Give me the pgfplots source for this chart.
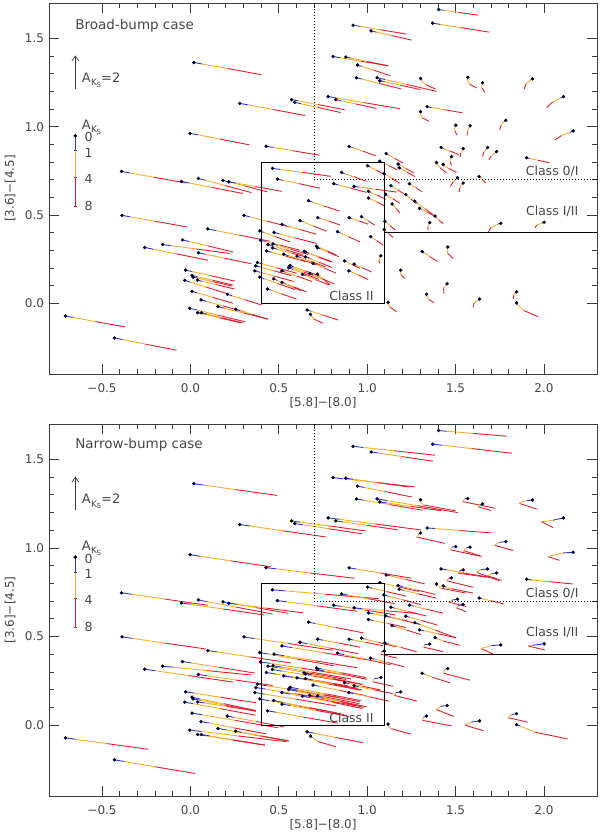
\documentclass[border=0pt]{standalone}
\usepackage{pgfplots}
\pgfplotsset{compat=1.18}
\usepackage{pgfplotstable}
\usepackage{fontspec}
\setmainfont{DejaVu Sans}
\usetikzlibrary{arrows.meta}

\definecolor{cblue}{RGB}{45,60,200}
\definecolor{corange}{RGB}{245,175,40}
\definecolor{cred}{RGB}{228,30,45}
\definecolor{txt}{RGB}{70,70,70}
\definecolor{axcol}{RGB}{60,60,60}

\newcommand{\AKS}{A\kern0.3pt\raisebox{-0.45ex}{\fontsize{9}{9}\selectfont K\kern-0.3pt\raisebox{-0.35ex}{\fontsize{7}{7}\selectfont S}}}

% columns: position at A_Ks = 0, 1, 4, 8
\pgfplotstableread{
xa ya xb yb xc yc xd yd
0.019 1.363 0.069 1.354 0.211 1.329 0.402 1.294
0.279 1.132 0.327 1.123 0.464 1.098 0.649 1.063
0.572 1.153 0.611 1.146 0.722 1.125 0.872 1.096
0.590 1.138 0.624 1.130 0.720 1.109 0.850 1.080
-0.002 0.962 0.042 0.954 0.166 0.930 0.334 0.897
0.428 0.889 0.467 0.883 0.578 0.864 0.728 0.839
-0.390 0.747 -0.342 0.738 -0.207 0.714 -0.023 0.681
-0.051 0.690 -0.006 0.681 0.123 0.656 0.296 0.622
0.045 0.707 0.084 0.697 0.195 0.667 0.345 0.627
0.184 0.696 0.217 0.688 0.309 0.664 0.434 0.631
0.217 0.688 0.256 0.681 0.367 0.661 0.517 0.634
0.464 0.764 0.507 0.758 0.629 0.742 0.794 0.719
0.492 0.703 0.523 0.696 0.612 0.678 0.732 0.652
-0.387 0.498 -0.339 0.489 -0.202 0.465 -0.017 0.432
0.098 0.421 0.144 0.412 0.273 0.387 0.448 0.352
-0.045 0.359 -0.008 0.350 0.098 0.325 0.241 0.291
-0.157 0.333 -0.108 0.326 0.033 0.308 0.222 0.282
-0.259 0.316 -0.212 0.307 -0.080 0.280 0.100 0.244
0.045 0.286 0.084 0.278 0.195 0.255 0.345 0.224
-0.027 0.188 0.009 0.180 0.112 0.157 0.251 0.126
0.009 0.158 0.039 0.151 0.125 0.131 0.241 0.103
0.015 0.148 0.044 0.142 0.125 0.123 0.235 0.098
0.040 0.131 0.067 0.125 0.145 0.106 0.250 0.081
-0.032 0.130 -0.001 0.120 0.086 0.093 0.204 0.056
0.009 0.068 0.039 0.059 0.125 0.034 0.241 0.000
0.060 0.020 0.092 0.011 0.184 -0.015 0.307 -0.049
-0.004 -0.028 0.036 -0.038 0.152 -0.066 0.307 -0.104
0.041 -0.053 0.072 -0.060 0.160 -0.081 0.279 -0.109
0.062 -0.053 0.092 -0.061 0.179 -0.082 0.296 -0.111
0.156 -0.019 0.193 -0.028 0.298 -0.054 0.439 -0.089
0.209 0.051 0.234 0.043 0.307 0.021 0.404 -0.010
0.256 -0.034 0.280 -0.041 0.348 -0.062 0.439 -0.090
-0.707 -0.072 -0.663 -0.080 -0.538 -0.103 -0.368 -0.134
-0.430 -0.196 -0.384 -0.205 -0.255 -0.231 -0.079 -0.265
0.303 0.498 0.337 0.489 0.433 0.465 0.562 0.432
0.392 0.410 0.414 0.402 0.477 0.379 0.562 0.348
0.396 0.357 0.425 0.350 0.508 0.329 0.619 0.301
0.430 0.297 0.459 0.289 0.540 0.267 0.650 0.237
0.379 0.231 0.408 0.223 0.489 0.201 0.599 0.171
0.370 0.212 0.396 0.205 0.470 0.185 0.570 0.157
0.364 0.184 0.393 0.176 0.474 0.154 0.584 0.124
0.392 0.148 0.418 0.139 0.492 0.113 0.592 0.078
0.473 0.401 0.504 0.393 0.593 0.370 0.713 0.339
0.439 0.333 0.465 0.325 0.539 0.303 0.639 0.273
0.467 0.336 0.493 0.328 0.567 0.306 0.667 0.276
0.518 0.447 0.543 0.440 0.616 0.419 0.713 0.391
0.528 0.278 0.553 0.270 0.623 0.248 0.718 0.218
0.471 0.139 0.491 0.130 0.550 0.105 0.628 0.071
0.517 0.184 0.539 0.176 0.602 0.154 0.687 0.124
0.518 0.119 0.536 0.112 0.587 0.092 0.656 0.065
0.436 0.081 0.457 0.074 0.518 0.053 0.600 0.024
0.558 0.207 0.580 0.199 0.643 0.177 0.728 0.147
0.898 0.888 0.918 0.881 0.974 0.862 1.049 0.835
1.107 0.848 1.119 0.841 1.155 0.821 1.203 0.793
1.071 0.805 1.084 0.799 1.121 0.780 1.171 0.755
1.175 0.788 1.187 0.782 1.220 0.763 1.265 0.738
1.181 0.767 1.193 0.761 1.226 0.742 1.271 0.717
1.002 0.779 1.015 0.772 1.051 0.754 1.100 0.728
0.855 0.741 0.873 0.734 0.926 0.716 0.996 0.690
1.094 0.735 1.106 0.728 1.139 0.708 1.184 0.680
0.811 0.677 0.835 0.671 0.904 0.653 0.996 0.628
0.926 0.662 0.957 0.658 1.046 0.646 1.166 0.630
1.134 0.666 1.144 0.660 1.174 0.641 1.214 0.616
1.239 0.677 1.248 0.671 1.274 0.655 1.309 0.632
1.007 0.634 1.020 0.628 1.056 0.612 1.105 0.589
1.104 0.617 1.114 0.611 1.144 0.592 1.184 0.567
1.007 0.596 1.019 0.590 1.054 0.574 1.100 0.551
1.218 0.615 1.226 0.609 1.248 0.590 1.278 0.565
1.269 0.579 1.284 0.568 1.326 0.536 1.383 0.493
1.141 0.562 1.147 0.555 1.163 0.537 1.185 0.511
0.668 0.581 0.691 0.573 0.757 0.551 0.845 0.521
0.620 0.468 0.640 0.460 0.695 0.438 0.770 0.408
0.720 0.485 0.736 0.480 0.783 0.465 0.845 0.444
0.898 0.485 0.912 0.480 0.952 0.467 1.005 0.448
0.968 0.491 0.978 0.485 1.006 0.467 1.043 0.442
1.100 0.464 1.108 0.458 1.130 0.439 1.160 0.414
1.096 0.418 1.103 0.412 1.121 0.396 1.146 0.373
0.832 0.406 0.848 0.398 0.895 0.377 0.958 0.348
1.019 0.378 1.028 0.372 1.055 0.354 1.090 0.329
0.713 0.323 0.728 0.317 0.770 0.298 0.826 0.273
0.719 0.314 0.735 0.308 0.779 0.289 0.839 0.264
0.464 0.314 0.493 0.306 0.574 0.284 0.684 0.254
0.643 0.295 0.663 0.287 0.718 0.265 0.793 0.235
0.651 0.290 0.671 0.283 0.726 0.263 0.801 0.235
0.603 0.267 0.624 0.259 0.683 0.237 0.763 0.207
0.651 0.263 0.671 0.255 0.726 0.233 0.801 0.203
1.077 0.269 1.073 0.262 1.066 0.245 1.071 0.226
0.872 0.240 0.883 0.235 0.915 0.219 0.958 0.198
0.926 0.222 0.939 0.216 0.975 0.200 1.024 0.178
0.564 0.214 0.586 0.206 0.649 0.184 0.734 0.154
0.556 0.201 0.578 0.193 0.641 0.169 0.726 0.136
0.694 0.226 0.711 0.219 0.759 0.199 0.824 0.171
0.634 0.164 0.654 0.156 0.709 0.134 0.784 0.104
0.675 0.169 0.693 0.161 0.745 0.139 0.815 0.109
0.719 0.165 0.726 0.158 0.750 0.139 0.789 0.105
0.896 0.184 0.910 0.178 0.951 0.160 1.005 0.135
1.190 0.188 1.186 0.180 1.190 0.163 1.213 0.141
0.660 -0.038 0.683 -0.045 0.748 -0.066 0.835 -0.094
0.679 -0.062 0.684 -0.070 0.700 -0.090 0.750 -0.113
1.118 0.006 1.118 -0.002 1.130 -0.022 1.166 -0.047
1.404 1.663 1.433 1.659 1.516 1.647 1.628 1.631
1.370 1.586 1.412 1.579 1.530 1.561 1.690 1.535
0.920 1.574 0.959 1.568 1.071 1.549 1.222 1.524
1.022 1.542 1.052 1.535 1.137 1.516 1.251 1.490
0.807 1.397 0.847 1.390 0.963 1.371 1.118 1.345
0.879 1.394 0.910 1.388 0.999 1.369 1.119 1.344
0.945 1.349 0.969 1.341 1.039 1.319 1.132 1.288
0.939 1.277 0.972 1.269 1.067 1.245 1.194 1.213
1.056 1.277 1.100 1.267 1.224 1.239 1.392 1.200
1.071 1.260 1.101 1.254 1.186 1.235 1.301 1.210
1.302 1.273 1.305 1.262 1.330 1.238 1.387 1.213
1.569 1.279 1.567 1.268 1.580 1.240 1.619 1.219
1.653 1.249 1.650 1.240 1.648 1.220 1.666 1.194
1.935 1.271 1.925 1.265 1.900 1.245 1.888 1.213
2.111 1.170 2.095 1.163 2.050 1.140 2.015 1.109
0.779 1.170 0.832 1.161 0.982 1.136 1.184 1.102
0.822 1.153 0.852 1.147 0.937 1.128 1.052 1.103
1.339 1.113 1.365 1.108 1.439 1.096 1.539 1.078
1.302 1.085 1.300 1.076 1.312 1.050 1.350 1.030
1.501 1.008 1.497 0.999 1.495 0.978 1.509 0.951
1.582 1.005 1.577 0.997 1.567 0.975 1.565 0.950
1.784 1.036 1.776 1.030 1.758 1.010 1.750 0.982
2.165 0.976 2.148 0.968 2.100 0.950 2.062 0.925
1.418 0.882 1.431 0.877 1.469 0.862 1.520 0.841
1.543 0.876 1.540 0.868 1.530 0.850 1.530 0.827
1.681 0.882 1.675 0.874 1.660 0.855 1.652 0.831
1.732 0.859 1.724 0.853 1.703 0.836 1.688 0.813
1.477 0.831 1.473 0.823 1.468 0.803 1.477 0.780
1.392 0.797 1.395 0.789 1.412 0.768 1.449 0.737
1.430 0.786 1.438 0.780 1.462 0.763 1.505 0.741
1.902 0.824 1.918 0.820 1.965 0.810 2.029 0.796
1.511 0.711 1.505 0.704 1.485 0.688 1.471 0.662
1.543 0.681 1.538 0.674 1.525 0.655 1.520 0.630
1.633 0.718 1.638 0.713 1.652 0.700 1.670 0.681
1.296 0.538 1.307 0.532 1.340 0.516 1.383 0.493
1.384 0.494 1.390 0.488 1.405 0.472 1.430 0.451
1.354 0.457 1.350 0.450 1.343 0.433 1.345 0.414
1.756 0.453 1.740 0.448 1.700 0.428 1.684 0.402
2.001 0.459 1.990 0.455 1.960 0.443 1.949 0.429
1.311 0.293 1.322 0.286 1.354 0.265 1.396 0.237
1.456 0.319 1.452 0.310 1.455 0.283 1.486 0.254
1.452 0.111 1.445 0.104 1.432 0.085 1.434 0.056
1.336 0.051 1.336 0.043 1.348 0.022 1.379 0.003
1.636 0.024 1.628 0.018 1.605 0.002 1.599 -0.023
1.845 0.065 1.838 0.060 1.826 0.045 1.826 0.024
1.845 0.003 1.850 -0.008 1.885 -0.040 1.967 -0.076
}\topdata

\pgfplotstableread{
xa ya xb yb xc yc xd yd
0.019 1.363 0.075 1.355 0.254 1.330 0.489 1.297
0.279 1.132 0.338 1.124 0.524 1.097 0.769 1.062
0.572 1.153 0.622 1.146 0.782 1.125 0.992 1.096
0.590 1.138 0.636 1.131 0.780 1.109 0.970 1.080
-0.002 0.962 0.053 0.954 0.226 0.928 0.454 0.894
0.428 0.889 0.488 0.882 0.678 0.859 0.928 0.829
-0.390 0.747 -0.332 0.739 -0.147 0.712 0.097 0.677
-0.051 0.690 0.005 0.682 0.183 0.656 0.416 0.622
0.045 0.707 0.095 0.697 0.255 0.667 0.465 0.627
0.184 0.696 0.228 0.688 0.369 0.664 0.554 0.631
0.217 0.688 0.267 0.682 0.427 0.661 0.637 0.634
0.464 0.764 0.536 0.758 0.764 0.739 1.064 0.714
0.492 0.703 0.546 0.696 0.717 0.673 0.942 0.643
-0.387 0.498 -0.330 0.490 -0.150 0.464 0.087 0.430
0.098 0.421 0.154 0.413 0.333 0.386 0.568 0.351
-0.045 0.359 0.004 0.351 0.160 0.327 0.364 0.294
-0.157 0.333 -0.097 0.327 0.093 0.308 0.343 0.283
-0.259 0.316 -0.199 0.307 -0.009 0.280 0.241 0.243
0.045 0.286 0.095 0.279 0.255 0.255 0.465 0.224
-0.027 0.188 0.021 0.181 0.173 0.157 0.373 0.126
0.009 0.158 0.052 0.149 0.189 0.121 0.369 0.083
0.015 0.148 0.058 0.140 0.193 0.113 0.370 0.078
0.040 0.131 0.080 0.125 0.205 0.106 0.370 0.081
-0.032 0.130 0.016 0.121 0.168 0.093 0.368 0.056
0.009 0.068 0.067 0.058 0.253 0.027 0.496 -0.015
0.060 0.020 0.104 0.012 0.244 -0.015 0.427 -0.049
-0.004 -0.028 0.062 -0.036 0.270 -0.061 0.543 -0.093
0.041 -0.053 0.087 -0.060 0.231 -0.083 0.421 -0.113
0.062 -0.053 0.105 -0.060 0.242 -0.083 0.422 -0.113
0.156 -0.019 0.204 -0.027 0.356 -0.054 0.556 -0.089
0.209 0.051 0.247 0.044 0.369 0.021 0.529 -0.010
0.256 -0.034 0.292 -0.041 0.406 -0.062 0.556 -0.090
-0.707 -0.072 -0.651 -0.080 -0.474 -0.104 -0.240 -0.136
-0.430 -0.196 -0.375 -0.205 -0.201 -0.235 0.028 -0.273
0.303 0.498 0.363 0.489 0.553 0.461 0.803 0.423
0.392 0.410 0.442 0.401 0.602 0.373 0.812 0.335
0.396 0.357 0.451 0.349 0.626 0.322 0.856 0.287
0.430 0.297 0.485 0.288 0.660 0.260 0.890 0.222
0.379 0.231 0.434 0.222 0.609 0.194 0.839 0.156
0.370 0.212 0.423 0.204 0.590 0.177 0.810 0.142
0.364 0.184 0.419 0.175 0.594 0.147 0.824 0.109
0.392 0.148 0.445 0.138 0.612 0.108 0.832 0.068
0.473 0.401 0.529 0.392 0.708 0.363 0.943 0.324
0.439 0.333 0.492 0.324 0.659 0.296 0.879 0.258
0.467 0.336 0.520 0.327 0.687 0.299 0.907 0.261
0.518 0.447 0.574 0.438 0.753 0.409 0.988 0.371
0.528 0.278 0.578 0.270 0.738 0.243 0.948 0.208
0.471 0.139 0.519 0.129 0.671 0.099 0.871 0.059
0.517 0.184 0.567 0.175 0.727 0.147 0.937 0.109
0.518 0.119 0.564 0.111 0.708 0.084 0.898 0.049
0.436 0.081 0.484 0.073 0.636 0.046 0.836 0.011
0.558 0.207 0.606 0.198 0.758 0.170 0.958 0.132
0.898 0.888 0.940 0.881 1.073 0.859 1.248 0.830
1.107 0.848 1.133 0.842 1.217 0.823 1.326 0.797
1.071 0.805 1.097 0.799 1.181 0.780 1.291 0.755
1.175 0.788 1.200 0.782 1.280 0.763 1.385 0.738
1.181 0.767 1.206 0.761 1.286 0.742 1.391 0.717
1.002 0.779 1.028 0.773 1.111 0.754 1.220 0.728
0.855 0.741 0.891 0.734 1.005 0.714 1.155 0.686
1.094 0.735 1.119 0.728 1.199 0.708 1.304 0.680
0.811 0.677 0.853 0.670 0.986 0.650 1.161 0.622
0.926 0.662 0.969 0.658 1.106 0.646 1.286 0.630
1.134 0.666 1.158 0.660 1.234 0.641 1.334 0.616
1.239 0.677 1.262 0.672 1.334 0.655 1.429 0.632
1.007 0.634 1.033 0.629 1.116 0.612 1.225 0.589
1.104 0.617 1.128 0.611 1.204 0.592 1.304 0.567
1.007 0.596 1.033 0.591 1.114 0.574 1.220 0.551
1.218 0.615 1.240 0.609 1.308 0.590 1.398 0.565
1.269 0.579 1.297 0.569 1.386 0.536 1.503 0.493
1.141 0.562 1.161 0.556 1.223 0.537 1.305 0.511
0.668 0.581 0.705 0.574 0.823 0.551 0.978 0.521
0.620 0.468 0.660 0.460 0.785 0.436 0.950 0.403
0.720 0.485 0.749 0.480 0.840 0.463 0.959 0.440
0.898 0.485 0.921 0.481 0.994 0.467 1.090 0.448
0.968 0.491 0.991 0.485 1.066 0.467 1.163 0.442
1.100 0.464 1.122 0.458 1.190 0.439 1.280 0.414
1.096 0.418 1.080 0.414 1.078 0.400 1.170 0.378
0.832 0.406 0.868 0.398 0.982 0.374 1.132 0.341
1.019 0.378 1.042 0.372 1.115 0.354 1.210 0.329
0.713 0.323 0.747 0.316 0.853 0.296 0.993 0.268
0.719 0.314 0.753 0.307 0.859 0.287 0.999 0.259
0.464 0.314 0.519 0.305 0.694 0.277 0.924 0.239
0.643 0.295 0.683 0.287 0.808 0.263 0.973 0.230
0.651 0.290 0.689 0.283 0.811 0.260 0.971 0.230
0.603 0.267 0.646 0.259 0.783 0.232 0.963 0.197
0.651 0.263 0.689 0.255 0.811 0.231 0.971 0.198
1.077 0.269 1.040 0.262 1.030 0.245 1.147 0.219
0.872 0.240 0.897 0.235 0.975 0.219 1.078 0.198
0.926 0.222 0.952 0.217 1.035 0.200 1.144 0.178
0.564 0.214 0.612 0.205 0.764 0.177 0.964 0.139
0.556 0.201 0.604 0.191 0.756 0.161 0.956 0.121
0.694 0.226 0.730 0.219 0.844 0.196 0.994 0.166
0.634 0.164 0.675 0.156 0.804 0.129 0.974 0.094
0.675 0.169 0.713 0.161 0.835 0.137 0.995 0.104
0.719 0.165 0.750 0.157 0.849 0.133 0.979 0.100
0.896 0.184 0.923 0.178 1.011 0.160 1.125 0.135
1.190 0.188 1.163 0.183 1.153 0.168 1.282 0.136
0.660 -0.038 0.698 -0.045 0.819 -0.069 0.977 -0.099
0.679 -0.062 0.690 -0.070 0.720 -0.092 0.822 -0.122
1.118 0.006 1.120 -0.004 1.135 -0.020 1.247 -0.051
1.404 1.663 1.450 1.659 1.596 1.647 1.788 1.631
1.370 1.586 1.424 1.580 1.594 1.561 1.817 1.535
0.920 1.574 0.976 1.568 1.152 1.549 1.383 1.524
1.022 1.542 1.064 1.536 1.197 1.516 1.372 1.490
0.807 1.397 0.862 1.391 1.038 1.371 1.269 1.345
0.879 1.394 0.922 1.388 1.059 1.369 1.239 1.344
0.945 1.349 0.982 1.342 1.099 1.319 1.252 1.288
0.939 1.277 0.984 1.269 1.127 1.245 1.314 1.213
1.056 1.277 1.111 1.268 1.284 1.239 1.512 1.200
1.071 1.260 1.113 1.254 1.246 1.235 1.421 1.210
1.302 1.273 1.296 1.265 1.318 1.243 1.500 1.210
1.569 1.279 1.552 1.278 1.540 1.262 1.720 1.225
1.653 1.249 1.640 1.245 1.630 1.232 1.700 1.212
1.935 1.271 1.902 1.267 1.860 1.252 1.961 1.219
2.111 1.170 2.052 1.157 1.985 1.148 2.052 1.115
0.779 1.170 0.842 1.162 1.042 1.136 1.304 1.102
0.822 1.153 0.864 1.147 0.997 1.128 1.172 1.103
1.339 1.113 1.383 1.110 1.521 1.099 1.703 1.085
1.302 1.085 1.292 1.078 1.280 1.062 1.439 1.026
1.501 1.008 1.478 1.005 1.470 0.990 1.647 0.952
1.582 1.005 1.560 1.000 1.545 0.985 1.640 0.955
1.784 1.036 1.746 1.032 1.722 1.015 1.826 0.986
2.165 0.976 2.109 0.972 2.024 0.952 2.087 0.930
1.418 0.882 1.452 0.877 1.540 0.860 1.720 0.830
1.543 0.876 1.520 0.870 1.515 0.858 1.675 0.835
1.681 0.882 1.640 0.877 1.620 0.862 1.746 0.816
1.732 0.859 1.705 0.855 1.680 0.843 1.760 0.817
1.477 0.831 1.460 0.829 1.450 0.815 1.599 0.778
1.392 0.797 1.398 0.790 1.420 0.773 1.560 0.745
1.430 0.786 1.445 0.781 1.480 0.770 1.600 0.745
1.902 0.824 1.933 0.819 2.030 0.810 2.162 0.797
1.511 0.711 1.480 0.706 1.462 0.694 1.560 0.670
1.543 0.681 1.515 0.676 1.505 0.662 1.560 0.640
1.633 0.718 1.650 0.713 1.700 0.702 1.773 0.684
1.296 0.538 1.321 0.533 1.400 0.516 1.503 0.493
1.384 0.494 1.395 0.488 1.430 0.475 1.524 0.451
1.354 0.457 1.325 0.454 1.320 0.440 1.430 0.415
1.756 0.453 1.703 0.449 1.643 0.433 1.713 0.401
2.001 0.459 1.939 0.451 1.911 0.447 2.005 0.424
1.311 0.293 1.325 0.288 1.370 0.270 1.467 0.239
1.456 0.319 1.440 0.316 1.433 0.293 1.581 0.254
1.452 0.111 1.415 0.106 1.390 0.088 1.490 0.049
1.336 0.051 1.318 0.045 1.313 0.027 1.477 -0.004
1.636 0.024 1.591 0.018 1.553 0.000 1.656 -0.031
1.845 0.065 1.817 0.060 1.798 0.042 1.907 0.017
1.845 0.003 1.865 -0.005 1.950 -0.040 2.134 -0.078
}\botdata

\pgfplotsset{
  ccaxis/.style={
    scale only axis, width=548pt,
    xmin=-0.8, xmax=2.3, ymin=-0.4, ymax=1.7,
    xtick={-0.5,0,0.5,1,1.5,2}, xticklabels={−0.5,0.0,0.5,1.0,1.5,2.0},
    ytick={0,0.5,1,1.5}, yticklabels={0.0,0.5,1.0,1.5},
    minor x tick num=4, minor y tick num=4,
    xtick pos=both, ytick pos=both, xticklabel pos=lower, yticklabel pos=left,
    tick align=inside,
    major tick length=10pt, minor tick length=5pt,
    axis line style={draw=axcol, line width=0.8pt},
    tick style={draw=axcol, line width=0.8pt},
    tick label style={font=\fontsize{12}{14}\selectfont, text=txt},
    xticklabel style={anchor=center, yshift=-14pt},
    yticklabel style={anchor=east, xshift=-1.5pt},
    xlabel={[5.8]−[8.0]}, ylabel={[3.6]−[4.5]},
    every axis x label/.style={at={([yshift=-29pt]axis description cs:0.5,0)}, anchor=center, font=\fontsize{12}{14}\selectfont, text=txt},
    every axis y label/.style={at={([xshift=-39pt]axis description cs:0,0.5)}, anchor=center, rotate=90, font=\fontsize{12}{14}\selectfont, text=txt},
  },
  seg/.style={line width=0.9pt},
}

\newcommand{\tracks}[1]{%
  \addplot[seg, cred, quiver={u=\thisrow{xd}-\thisrow{xc}, v=\thisrow{yd}-\thisrow{yc}}] table[x=xc, y=yc] {#1};
  \addplot[seg, corange, quiver={u=\thisrow{xc}-\thisrow{xb}, v=\thisrow{yc}-\thisrow{yb}}] table[x=xb, y=yb] {#1};
  \addplot[seg, cblue, quiver={u=\thisrow{xb}-\thisrow{xa}, v=\thisrow{yb}-\thisrow{ya}}] table[x=xa, y=ya] {#1};
  \addplot[only marks, mark=*, mark size=1.5pt, mark options={fill=black!85!blue, draw=black!85!blue}] table[x=xa, y=ya] {#1};
}

\newcommand{\decor}[2]{%
  % region boundaries
  \draw[black, line width=0.8pt, dash pattern=on 0.8pt off 2.2pt] (axis cs:0.7,1.7) -- (axis cs:0.7,0.7) -- (axis cs:2.3,0.7);
  \draw[black, line width=0.8pt] (axis cs:0.4,0) rectangle (axis cs:1.1,0.8);
  \draw[black, line width=0.8pt] (axis cs:1.1,0.4) -- (axis cs:2.3,0.4);
  \node[anchor=east, inner sep=0pt, font=\fontsize{12.5}{14}\selectfont, text=txt] at (axis cs:2.197,0.745) {Class 0/I};
  \node[anchor=east, inner sep=0pt, font=\fontsize{12.5}{14}\selectfont, text=txt] at (axis cs:2.195,0.523) {Class I/II};
  \node[anchor=east, inner sep=0pt, font=\fontsize{12.5}{14}\selectfont, text=txt] at (axis cs:1.037,0.041) {Class II};
  \node[anchor=west, inner sep=0pt, font=\fontsize{13.5}{15}\selectfont, text=txt] at (axis cs:-0.652,#1) {#2};
  % reddening vector
  \draw[-{Straight Barb[length=5pt,width=7pt]}, axcol, line width=0.7pt] (axis cs:-0.651,1.216) -- (axis cs:-0.651,1.403);
  \node[anchor=west, inner sep=0pt, font=\fontsize{13}{15}\selectfont, text=txt] at (axis cs:-0.615,1.262) {\AKS=2};
  % colour key
  \node[anchor=west, inner sep=0pt, font=\fontsize{13}{15}\selectfont, text=txt] at (axis cs:-0.615,0.998) {\AKS};
  \addplot[cblue, line width=1.2pt] coordinates {(-0.651,0.948) (-0.651,0.864)};
  \addplot[corange, line width=1.2pt] coordinates {(-0.651,0.864) (-0.651,0.713)};
  \addplot[cred, line width=1.2pt] coordinates {(-0.651,0.713) (-0.651,0.551)};
  \addplot[cblue, line width=0.8pt] coordinates {(-0.660,0.864) (-0.642,0.864)};
  \addplot[cred, line width=0.8pt] coordinates {(-0.660,0.713) (-0.642,0.713)};
  \addplot[cred, line width=0.8pt] coordinates {(-0.660,0.551) (-0.642,0.551)};
  \addplot[only marks, mark=*, mark size=1.6pt, mark options={fill=black!85!blue, draw=black!85!blue}] coordinates {(-0.651,0.948)};
  \node[anchor=west, inner sep=0pt, font=\fontsize{12.5}{14}\selectfont, text=txt] at (axis cs:-0.600,0.940) {0};
  \node[anchor=west, inner sep=0pt, font=\fontsize{12.5}{14}\selectfont, text=txt] at (axis cs:-0.600,0.851) {1};
  \node[anchor=west, inner sep=0pt, font=\fontsize{12.5}{14}\selectfont, text=txt] at (axis cs:-0.600,0.706) {4};
  \node[anchor=west, inner sep=0pt, font=\fontsize{12.5}{14}\selectfont, text=txt] at (axis cs:-0.600,0.553) {8};
}

\begin{document}
\begin{tikzpicture}
\useasboundingbox (0,0) rectangle (600pt,836pt);
\begin{axis}[ccaxis, height=371pt, at={(49pt,462pt)}, anchor=south west]
  \tracks{\topdata}
  \decor{1.571}{Broad-bump case}
\end{axis}
\begin{axis}[ccaxis, height=372pt, at={(49pt,40pt)}, anchor=south west]
  \tracks{\botdata}
  \decor{1.580}{Narrow-bump case}
\end{axis}
\end{tikzpicture}
\end{document}
